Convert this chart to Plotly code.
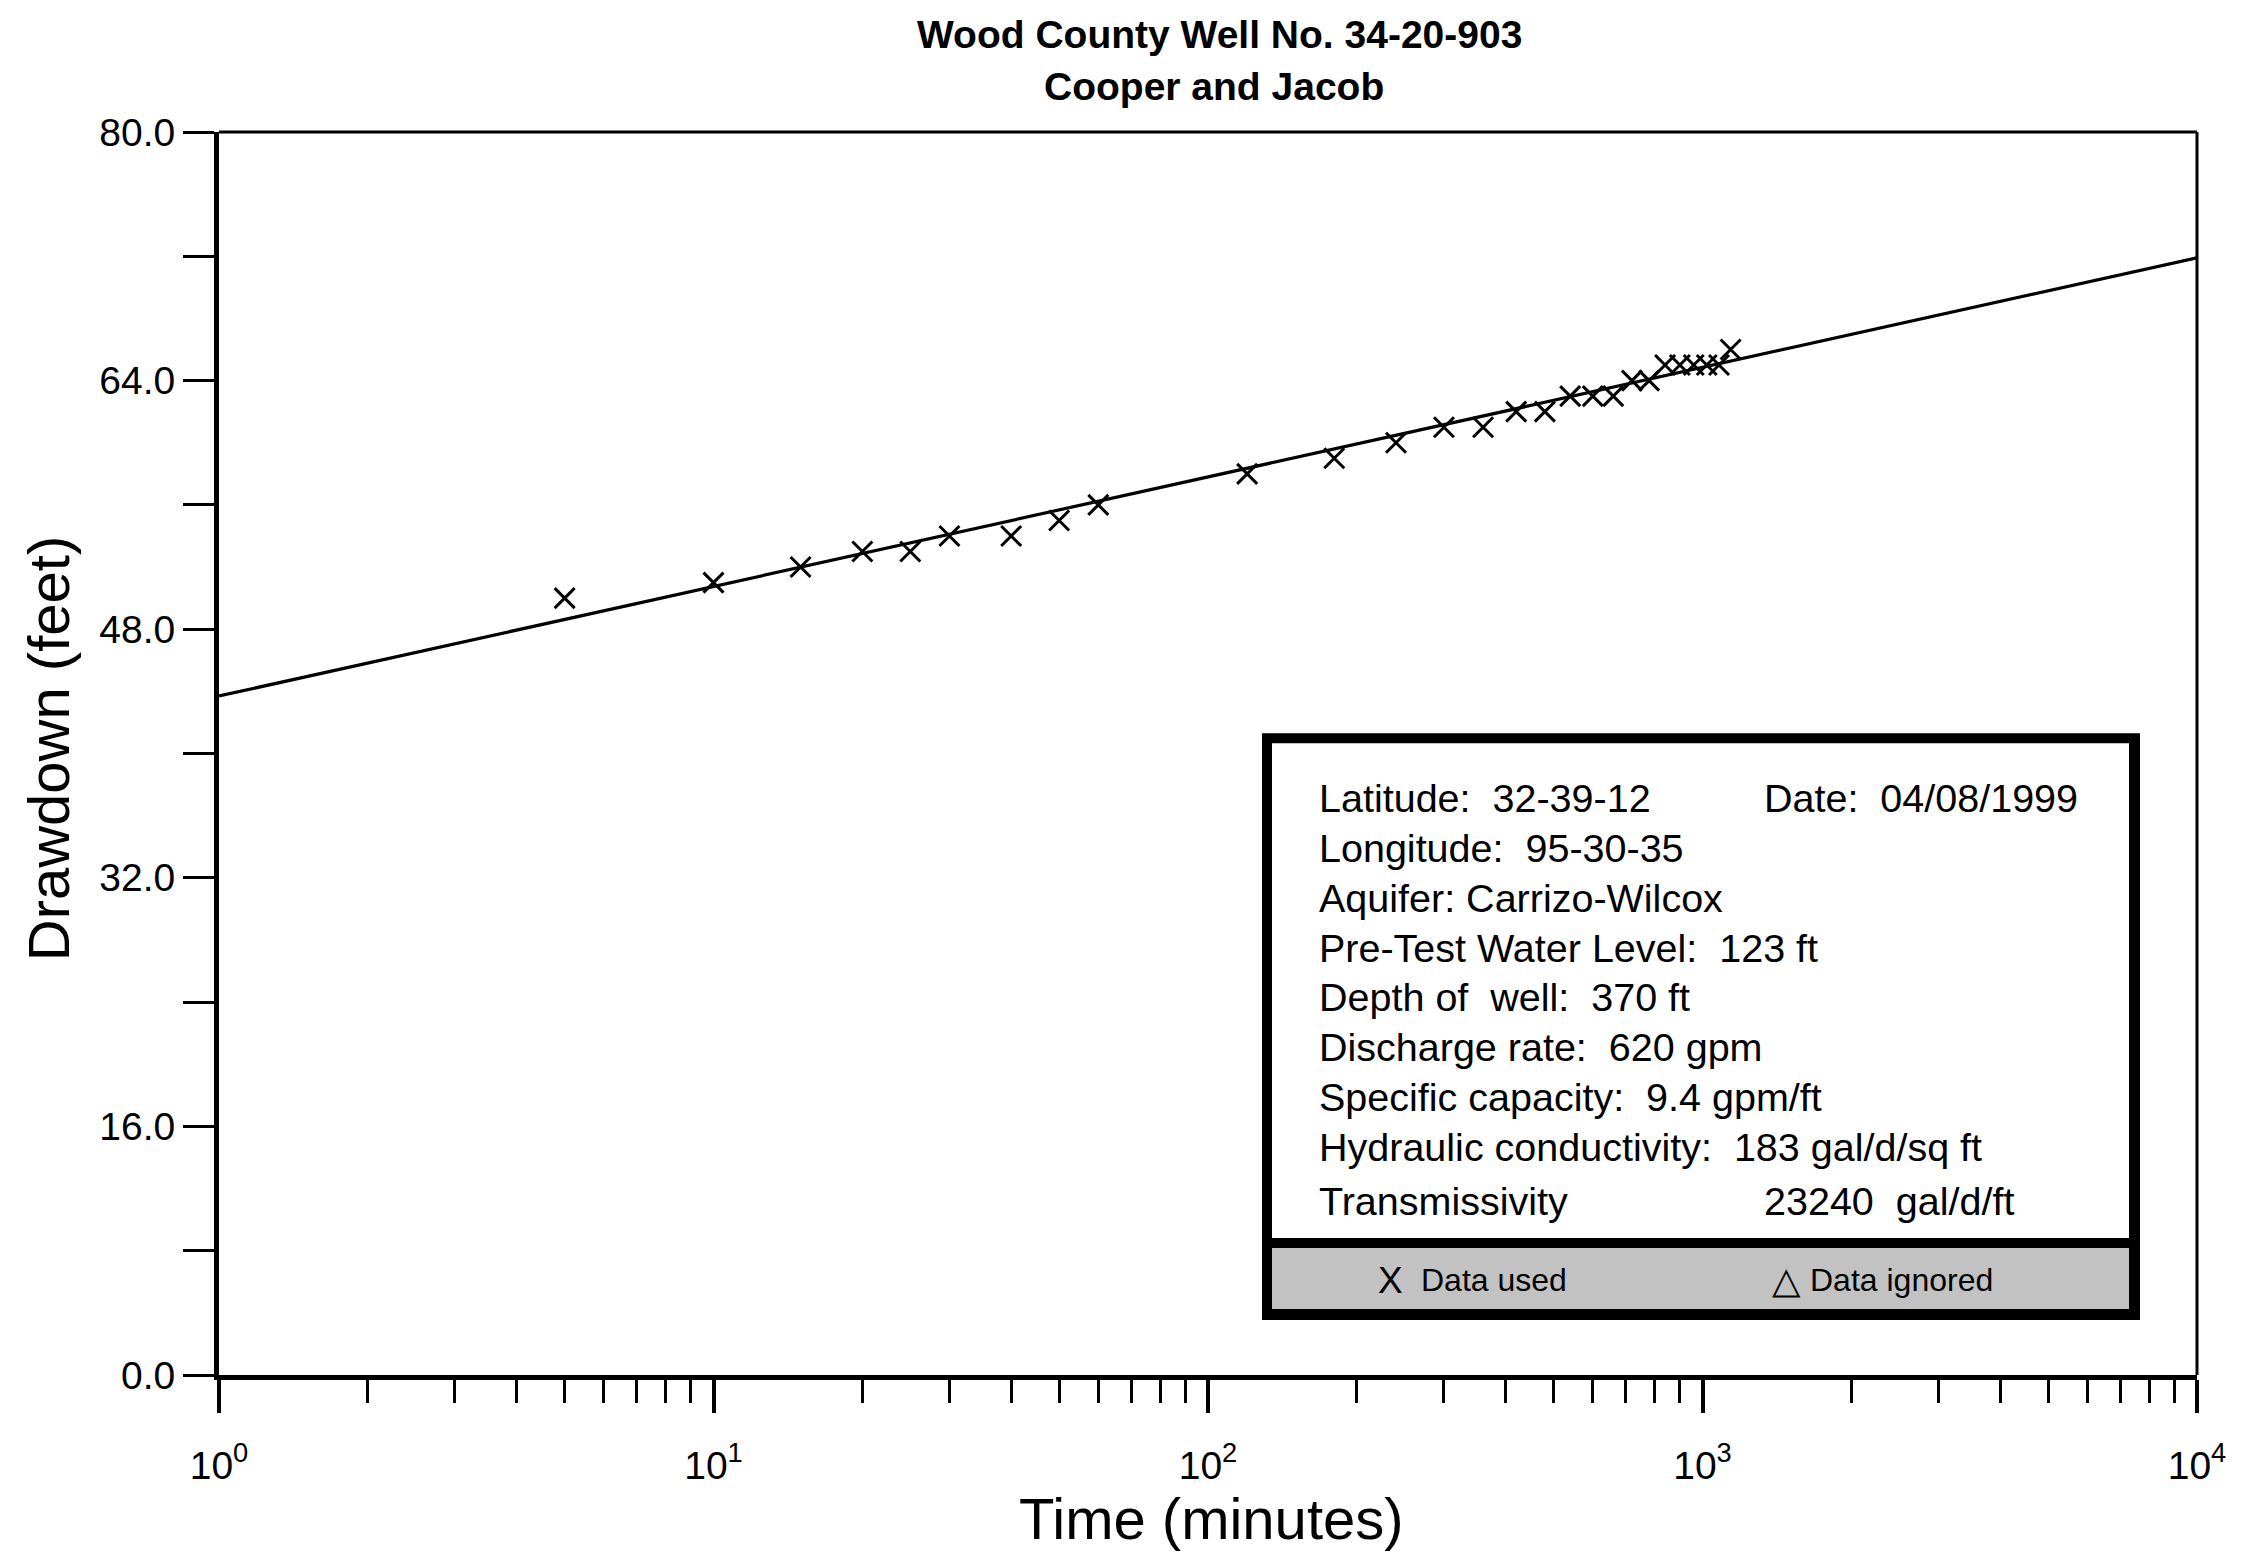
import plotly.graph_objects as go

# ---------------- data ----------------
time_min = [5, 10, 15, 20, 25, 30, 40, 50, 60, 120, 180, 240, 300, 360, 420,
            480, 540, 600, 660, 720, 780, 840, 900, 960, 1020, 1080, 1140]
drawdown_ft = [50, 51, 52, 53, 53, 54, 54, 55, 56, 58, 59, 60, 61, 61, 62,
               62, 63, 63, 63, 64, 64, 65, 65, 65, 65, 65, 66]

fit_time = [1, 10000]
fit_drawdown = [43.7, 71.9]

x_tick_vals = [1, 10, 100, 1000, 10000]
x_tick_text = ["10<sup>0</sup>", "10<sup>1</sup>", "10<sup>2</sup>", "10<sup>3</sup>", "10<sup>4</sup>"]
x_minor_vals = [m * d for d in [1, 10, 100, 1000] for m in range(2, 10)]
y_tick_vals = [0, 8, 16, 24, 32, 40, 48, 56, 64, 72, 80]
y_tick_text = ["0.0", "", "16.0", "", "32.0", "", "48.0", "", "64.0", "", "80.0"]

title_lines = ["Wood County Well No. 34-20-903", "Cooper and Jacob"]
info_left = ["Latitude:  32-39-12", "Longitude:  95-30-35", "Aquifer: Carrizo-Wilcox",
             "Pre-Test Water Level:  123 ft", "Depth of  well:  370 ft",
             "Discharge rate:  620 gpm", "Specific capacity:  9.4 gpm/ft",
             "Hydraulic conductivity:  183 gal/d/sq ft", "Transmissivity"]
info_right = ["Date:  04/08/1999", "", "", "", "", "", "", "", "23240  gal/d/ft"]
legend_labels = ["Data used", "Data ignored"]
legend_symbols = ["X", "\u25b3"]

# ---------------- geometry (pixels) ----------------
W, H = 2244, 1555
PL, PR, PT, PB = 219, 2197, 131.5, 1375

def px(X):
    return (X - PL) / (PR - PL)

def py(Y):
    return (PB - Y) / (PB - PT)

FONT = "Liberation Sans, Arial, Helvetica, sans-serif"
nb = lambda s: s.replace(" ", "\u00a0")

fig = go.Figure()
fig.add_trace(go.Scatter(x=fit_time, y=fit_drawdown, mode="lines",
                         line=dict(color="black", width=3.2), showlegend=False,
                         hoverinfo="skip"))
fig.add_trace(go.Scatter(x=time_min, y=drawdown_ft, mode="markers",
                         marker=dict(symbol="x-thin", size=20, color="black",
                                     line=dict(color="black", width=3)),
                         showlegend=False))

shapes = []
# top and right frame lines (thin)
shapes.append(dict(type="line", xref="paper", yref="paper", x0=0, x1=1, y0=1, y1=1,
                   line=dict(color="black", width=3)))
shapes.append(dict(type="line", xref="paper", yref="paper", x0=1, x1=1, y0=0, y1=1,
                   line=dict(color="black", width=3)))
# info box
shapes.append(dict(type="rect", xref="paper", yref="paper",
                   x0=px(1262), x1=px(2140), y0=py(1320), y1=py(733),
                   fillcolor="black", line=dict(width=0), layer="above"))
shapes.append(dict(type="rect", xref="paper", yref="paper",
                   x0=px(1272), x1=px(2129), y0=py(1238), y1=py(743),
                   fillcolor="white", line=dict(width=0), layer="above"))
shapes.append(dict(type="rect", xref="paper", yref="paper",
                   x0=px(1272), x1=px(2129), y0=py(1309), y1=py(1248),
                   fillcolor="#c2c2c2", line=dict(width=0), layer="above"))

ann = []
ann.append(dict(text="<b>" + title_lines[0] + "</b>", x=px(1219), y=py(34),
                xref="paper", yref="paper", showarrow=False, xanchor="center",
                yanchor="middle", font=dict(family=FONT, size=39, color="black")))
ann.append(dict(text="<b>" + title_lines[1] + "</b>", x=px(1214), y=py(86),
                xref="paper", yref="paper", showarrow=False, xanchor="center",
                yanchor="middle", font=dict(family=FONT, size=39, color="black")))
ann.append(dict(text="Time (minutes)", x=px(1211), y=py(1519),
                xref="paper", yref="paper", showarrow=False, xanchor="center",
                yanchor="middle", font=dict(family=FONT, size=58, color="black")))
ann.append(dict(text="Drawdown (feet)", x=px(48), y=py(749), textangle=-90,
                xref="paper", yref="paper", showarrow=False, xanchor="center",
                yanchor="middle", font=dict(family=FONT, size=58, color="black")))

row_y = [798 + 49.8 * i for i in range(8)] + [1201]
for i, (l, r) in enumerate(zip(info_left, info_right)):
    ann.append(dict(text=nb(l), x=px(1317), y=py(row_y[i]), xref="paper", yref="paper",
                    showarrow=False, xanchor="left", yanchor="middle",
                    font=dict(family=FONT, size=39.5, color="black")))
    if r:
        ann.append(dict(text=nb(r), x=px(1762), y=py(row_y[i]), xref="paper", yref="paper",
                        showarrow=False, xanchor="left", yanchor="middle",
                        font=dict(family=FONT, size=39.5, color="black")))

leg_sym_x = [1390, 1786]
leg_txt_x = [1419, 1808]
for sx, tx, s, t in zip(leg_sym_x, leg_txt_x, legend_symbols, legend_labels):
    ann.append(dict(text=s, x=px(sx), y=py(1280), xref="paper", yref="paper",
                    showarrow=False, xanchor="center", yanchor="middle",
                    font=dict(family=FONT, size=37, color="black")))
    ann.append(dict(text=nb(t), x=px(tx), y=py(1280), xref="paper", yref="paper",
                    showarrow=False, xanchor="left", yanchor="middle",
                    font=dict(family=FONT, size=32, color="black")))

fig.update_layout(
    width=W, height=H,
    margin=dict(l=PL, r=W - PR, t=PT, b=H - PB, pad=0),
    paper_bgcolor="white", plot_bgcolor="white",
    shapes=shapes, annotations=ann, showlegend=False,
    font=dict(family=FONT, color="black"),
)
fig.update_xaxes(type="log", range=[0, 4], showgrid=False, zeroline=False,
                 showline=True, linecolor="black", linewidth=5, mirror=False,
                 tickmode="array", tickvals=x_tick_vals, ticktext=x_tick_text,
                 ticks="outside", ticklen=33, tickwidth=4, tickcolor="black",
                 tickfont=dict(family=FONT, size=39, color="black"),
                 ticklabelstandoff=19,
                 minor=dict(tickmode="array", tickvals=x_minor_vals, ticks="outside",
                            ticklen=23, tickwidth=3, tickcolor="black", showgrid=False))
fig.update_yaxes(range=[0, 80], showgrid=False, zeroline=False,
                 showline=True, linecolor="black", linewidth=5, mirror=False,
                 tickmode="array", tickvals=y_tick_vals, ticktext=y_tick_text,
                 ticks="outside", ticklen=31, tickwidth=3, tickcolor="black",
                 tickfont=dict(family=FONT, size=39, color="black"),
                 ticklabelstandoff=0)

fig.write_html("out.html", config={"displayModeBar": False},
               post_script="document.body.style.margin='0px';"
                           "document.body.style.overflow='hidden';")
